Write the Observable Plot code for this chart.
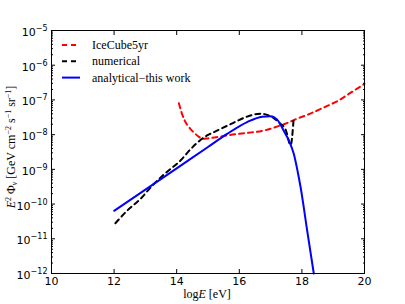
<!DOCTYPE html>
<html><head><meta charset="utf-8">
<script src="https://cdn.jsdelivr.net/npm/d3@7"></script>
<script src="https://cdn.jsdelivr.net/npm/@observablehq/plot@0.6"></script>
<style>body{margin:0;background:#fff}#chart{width:405px;height:304px}</style>
</head><body><div id="chart"></div>
<script>
// ---- data ----
const icecubeLogE = [14.07, 14.15, 14.25, 14.4, 14.55, 14.7, 14.85, 15.0, 15.3, 15.7, 16.25, 16.8, 17.2, 17.6, 17.85, 18.2, 18.6, 19.2, 19.6, 20.0];
const icecubeFlux = [8e-8, 4.5e-8, 2.6e-8, 1.6e-8, 1.15e-8, 8.8e-9, 7.6e-9, 7.8e-9, 8.5e-9, 9.8e-9, 1.12e-8, 1.32e-8, 1.7e-8, 2.3e-8, 2.9e-8, 3.8e-8, 5.5e-8, 1.0e-7, 1.7e-7, 2.9e-7];
const numericalLogE = [12.04, 12.42, 12.84, 13.22, 13.59, 14.12, 14.49, 14.81, 15.0, 15.18, 15.72, 16.25, 16.68, 16.89, 17.1, 17.3, 17.48, 17.64, 17.74];
const numericalFlux = [2.8e-11, 6.5e-11, 1.4e-10, 3.4e-10, 7.1e-10, 1.8e-9, 4.2e-9, 7.6e-9, 9.8e-9, 1.17e-8, 2.0e-8, 3.3e-8, 4.0e-8, 3.7e-8, 3.0e-8, 2.1e-8, 1.4e-8, 5.0e-9, 3.2e-8];
const analyticalLogE = [12.0, 13.0, 14.0, 15.0, 15.61, 16.25, 16.73, 17.0, 17.21, 17.42, 17.6, 17.74, 17.9, 17.96, 18.17, 18.38];
const analyticalFlux = [6.4e-11, 2.6e-10, 1.07e-9, 4.4e-9, 1.05e-8, 2.3e-8, 3.3e-8, 3.4e-8, 2.7e-8, 1.3e-8, 6.3e-9, 2.8e-9, 5.9e-10, 3.0e-10, 1.7e-11, 1e-12];
const xTicks = [10, 12, 14, 16, 18, 20];
const yTickExponents = [-12, -11, -10, -9, -8, -7, -6, -5];
const seriesNames = ["IceCube5yr", "numerical", "analytical\u2212this work"];
const seriesColors = ["#ff0000", "#000000", "#0000ff"];

// ---- build ----
const rows = (xs, ys) => xs.map((x, i) => ({x, y: ys[i]}));
const yTicks = yTickExponents.map(e => Math.pow(10, e));
const yMinor = [];
for (let e = -12; e < -5; e++) for (let m = 2; m < 10; m++) yMinor.push(m * Math.pow(10, e));
const blank = () => "";

const svg = Plot.plot({
  width: 405, height: 304,
  marginLeft: 51, marginRight: 41, marginTop: 30, marginBottom: 31,
  style: {fontFamily: "DejaVu Sans", fontSize: "11px", background: "#fff", color: "#000", overflow: "visible"},
  x: {domain: [10, 20]},
  y: {type: "log", domain: [1e-12, 1e-5]},
  marks: [
    Plot.line(rows(icecubeLogE, icecubeFlux), {x: "x", y: "y", stroke: seriesColors[0], strokeWidth: 2, strokeDasharray: "5,4", curve: "monotone-x"}),
    Plot.line(rows(numericalLogE, numericalFlux), {x: "x", y: "y", stroke: seriesColors[1], strokeWidth: 2, strokeDasharray: "5,4", curve: "monotone-x"}),
    Plot.line(rows(analyticalLogE, analyticalFlux), {x: "x", y: "y", stroke: seriesColors[2], strokeWidth: 2, curve: "monotone-x"}),
    Plot.frame({stroke: "#000", strokeWidth: 1}),
    Plot.axisX({ticks: xTicks, anchor: "bottom", tickSize: -4, tickPadding: 8, tickFormat: d => String(d), label: null}),
    Plot.axisX({ticks: xTicks, anchor: "top", tickSize: -4, tickFormat: blank, label: null}),
    Plot.axisY({ticks: yTicks, anchor: "left", tickSize: -4, tickPadding: 8, tickFormat: d => String(Math.round(Math.log10(d))), label: null}),
    Plot.axisY({ticks: yTicks, anchor: "right", tickSize: -4, tickFormat: blank, label: null}),
    Plot.axisY({ticks: yMinor, anchor: "left", tickSize: -2, tickFormat: blank, label: null}),
    Plot.axisY({ticks: yMinor, anchor: "right", tickSize: -2, tickFormat: blank, label: null})
  ]
});
document.getElementById("chart").appendChild(svg);

const NS = "http://www.w3.org/2000/svg";
// superscript exponents on y tick labels
svg.querySelectorAll('g[aria-label="y-axis tick label"] text').forEach(t => {
  const exp = t.textContent.trim();
  if (!exp) return;
  t.textContent = "10";
  const ts = document.createElementNS(NS, "tspan");
  ts.setAttribute("dy", "-5");
  ts.setAttribute("font-size", "8px");
  ts.textContent = exp.replace("-", "\u2212");
  t.appendChild(ts);
  t.setAttribute("transform", (t.getAttribute("transform") || "") + " translate(0,2)");
});

const sel = d3.select(svg);
const serif = "'Liberation Serif', 'Times New Roman', serif";
// legend
const leg = sel.append("g");
seriesNames.forEach((name, i) => {
  const y = 45 + i * 16.3;
  leg.append("line").attr("x1", 62).attr("x2", 80).attr("y1", y).attr("y2", y)
    .attr("stroke", seriesColors[i]).attr("stroke-width", 2)
    .attr("stroke-dasharray", i < 2 ? "5,4" : null);
  leg.append("text").attr("x", 92).attr("y", y + 4)
    .style("font-family", serif).style("font-size", "12px").style("text-anchor", "start")
    .text(name);
});
// x label
const xl = sel.append("text").attr("x", 207).attr("y", 298)
  .style("text-anchor", "middle").style("font-family", serif).style("font-size", "12px");
xl.append("tspan").text("log");
xl.append("tspan").style("font-style", "italic").text("E");
xl.append("tspan").text(" [eV]");
// y label
const yl = sel.append("text").attr("transform", "translate(15,147) rotate(-90)")
  .style("text-anchor", "middle").style("font-family", serif).style("font-size", "12px");
const part = (txt, opts = {}) => {
  const s = yl.append("tspan").text(txt);
  if (opts.italic) s.style("font-style", "italic");
  if (opts.dy) s.attr("dy", opts.dy);
  if (opts.size) s.style("font-size", opts.size + "px");
  return s;
};
part("E", {italic: true});
part("2", {dy: -4, size: 8});
part(" \u03A6", {dy: 4});
part("\u03BD", {italic: true, dy: 2, size: 8});
part(" [GeV cm", {dy: -2});
part("\u22122", {dy: -4, size: 8});
part(" s", {dy: 4});
part("\u22121", {dy: -4, size: 8});
part(" sr", {dy: 4});
part("\u22121", {dy: -4, size: 8});
part("]", {dy: 4});
</script>
</body></html>
